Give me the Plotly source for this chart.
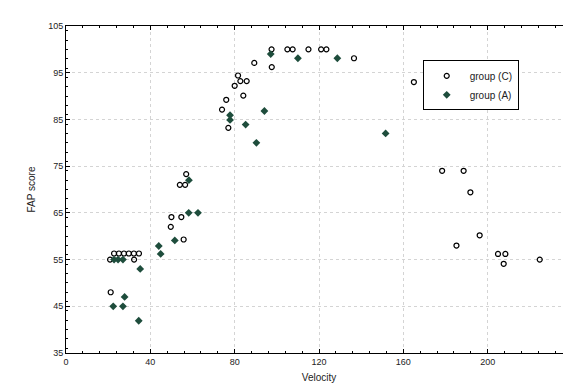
import plotly.graph_objects as go

# group (C) - open circles
c_x = [57, 54, 56.5, 74, 76, 77, 80, 81.6, 82.7, 85.7, 84.1, 89.3, 97.5, 97.6,
       105, 107.5, 115, 121, 123.5, 136.6, 165, 178.4, 188.6, 191.8,
       185.2, 196.2, 204.9, 208.4, 207.6, 224.7,
       21.2, 20.9, 22.8, 25.1, 27.5, 29.8, 32.2, 34.6, 32.3,
       50, 54.7, 49.7, 55.8]
c_y = [73.3, 71, 71, 87.1, 89.2, 83.2, 92.2, 94.4, 93.2, 93.2, 90.1, 97.1, 100, 96.2,
       100, 100, 100, 100, 100, 98.1, 93, 74, 74, 69.4,
       58, 60.2, 56.2, 56.2, 54.1, 55,
       48, 55, 56.3, 56.3, 56.3, 56.3, 56.3, 56.3, 55,
       64.1, 64.1, 62, 59.3]

# group (A) - filled diamonds
a_x = [58.3, 77.8, 77.8, 85.2, 90.3, 94.1, 97.1, 110, 128.7, 151.6,
       58.2, 62.6, 44, 44.9, 51.6, 35.2, 22.8, 24.7, 27, 27.8, 22.4, 27, 34.5]
a_y = [72, 85.9, 84.9, 83.9, 80, 86.8, 99, 98.1, 98.1, 82,
       65, 65, 57.9, 56.2, 59.1, 53, 55, 55, 55, 47, 45, 45, 41.9]

x_ticks = [0, 40, 80, 120, 160, 200, 240]
y_ticks = [35, 45, 55, 65, 75, 85, 95, 105]

fig = go.Figure()
fig.add_trace(go.Scatter(
    x=c_x, y=c_y, mode="markers", name="group (C)",
    marker=dict(symbol="circle-open", size=5, color="black", line=dict(width=1.2, color="black")),
))
fig.add_trace(go.Scatter(
    x=a_x, y=a_y, mode="markers", name="group (A)",
    marker=dict(symbol="diamond", size=6, color="#1e4d3c", line=dict(width=0)),
))

axis_common = dict(
    showline=True, linecolor="black", linewidth=1, mirror="ticks",
    ticks="inside", ticklen=4, tickcolor="black",
    showgrid=True, gridcolor="#d4d4d4", griddash="dot", gridwidth=1,
    zeroline=False, tickfont=dict(family="Arial, Liberation Sans", size=9, color="#222"),
)

fig.update_xaxes(
    range=[0, 240], tickvals=x_ticks, ticktext=[str(v) for v in x_ticks],
    title=dict(text="Velocity", font=dict(family="Arial, Liberation Sans", size=10, color="#222"), standoff=8),
    minor=dict(dtick=8, ticks="inside", ticklen=2, tickcolor="black", showgrid=False),
    **axis_common,
)
fig.update_yaxes(
    range=[35, 105], tickvals=y_ticks, ticktext=[str(v) for v in y_ticks],
    title=dict(text="FAP score", font=dict(family="Arial, Liberation Sans", size=10, color="#222"), standoff=10),
    minor=dict(dtick=2, ticks="inside", ticklen=2, tickcolor="black", showgrid=False),
    **axis_common,
)

fig.update_layout(
    width=571, height=387,
    margin=dict(l=58, r=7, t=18, b=42),
    paper_bgcolor="white", plot_bgcolor="white",
    legend=dict(
        x=0.705, y=0.895, xanchor="left", yanchor="top",
        bgcolor="white", bordercolor="black", borderwidth=1,
        font=dict(family="Arial, Liberation Sans", size=10, color="#222"),
        tracegroupgap=0, itemwidth=36,
    ),
)

fig.write_html("out.html")
